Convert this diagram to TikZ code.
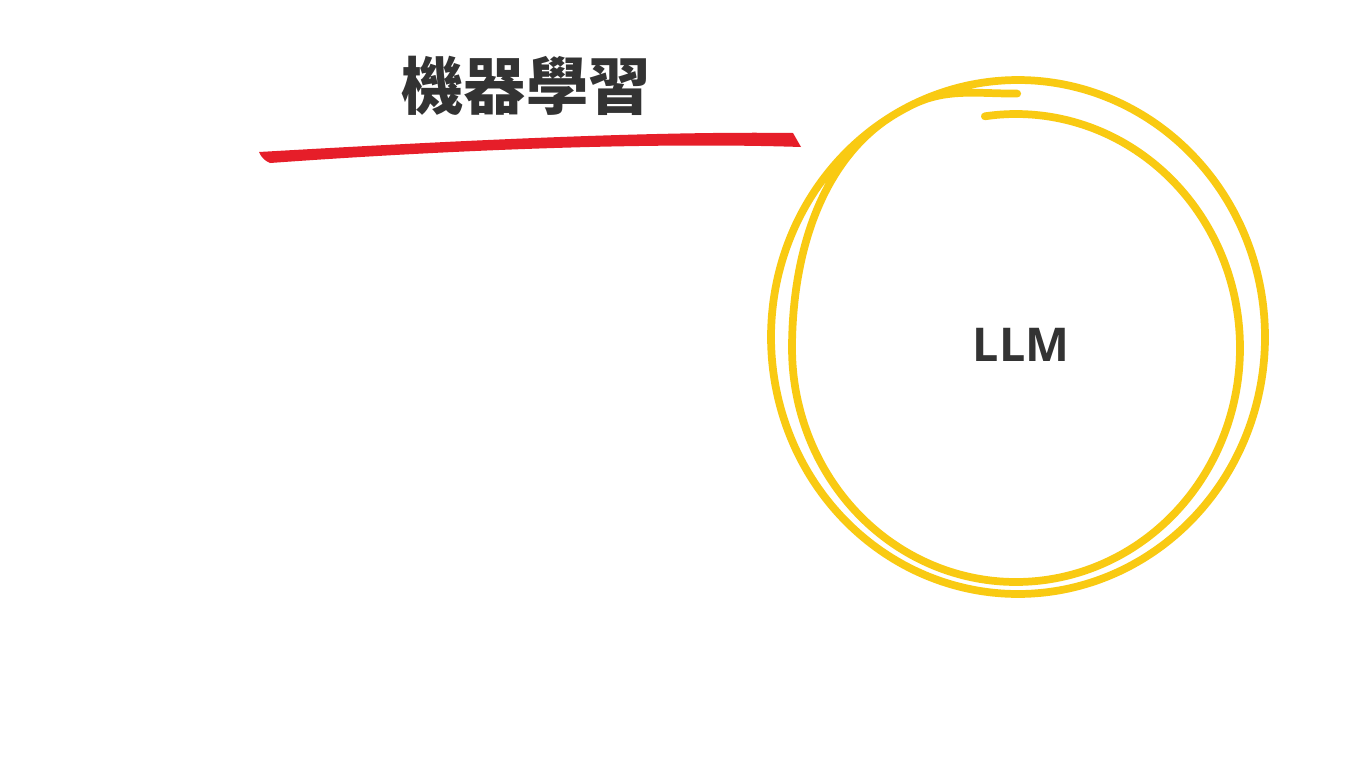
\documentclass[tikz,border=0pt]{standalone}
\usepackage{fontspec}
\newfontfamily\cjkfont{Noto Sans CJK TC}
\newfontfamily\labelfont{Open Sans}
\usetikzlibrary{positioning}
\definecolor{inkgray}{HTML}{333333}
\definecolor{brushred}{HTML}{E61E29}
\definecolor{markeryellow}{HTML}{F9CA12}

\begin{document}
\begin{tikzpicture}[x=0.02cm,y=-0.02cm,
  title node/.style={inner sep=0pt,text=inkgray,font=\cjkfont\bfseries\fontsize{35.5}{40}\selectfont},
  label node/.style={inner sep=0pt,text=inkgray,font=\labelfont\bfseries\fontsize{26.5}{30}\selectfont},
  marker/.style={draw=markeryellow,line width=4.4pt,line cap=round,line join=round},
  declare function={
    bl(\t)=(\t<180) ? 0 : ((\t<240) ? (0.5-0.5*cos(3*(\t-180))) :
      ((\t<605) ? 1 : (1-0.4*(0.5-0.5*cos(7.2*(\t-605))))));
  }]

  \fill[white] (0,0) rectangle (1365,768);
  \useasboundingbox (0,0) rectangle (1365,768);

  \node[title node] (title) at (526,86) {機器學習};
  \node[label node] (llm) at (1021,345) {LLM};

  % red brush stroke under the title
  \fill[brushred] (259,152) .. controls (450,141) and (650,131) .. (793,133)
    -- (801,147) .. controls (650,142) and (450,150) .. (270,163)
    .. controls (265,161) and (261,157) .. cycle;

  % yellow hand drawn loop, two turns from inner to outer
  \draw[marker] plot[domain=-98:630,samples=240,variable=\t,smooth]
    ({1016+2*bl(\t)+(224+23*bl(\t))*cos(\t)},
     {348-11*bl(\t)+(234+23*bl(\t))*sin(\t)});

\end{tikzpicture}
\end{document}
